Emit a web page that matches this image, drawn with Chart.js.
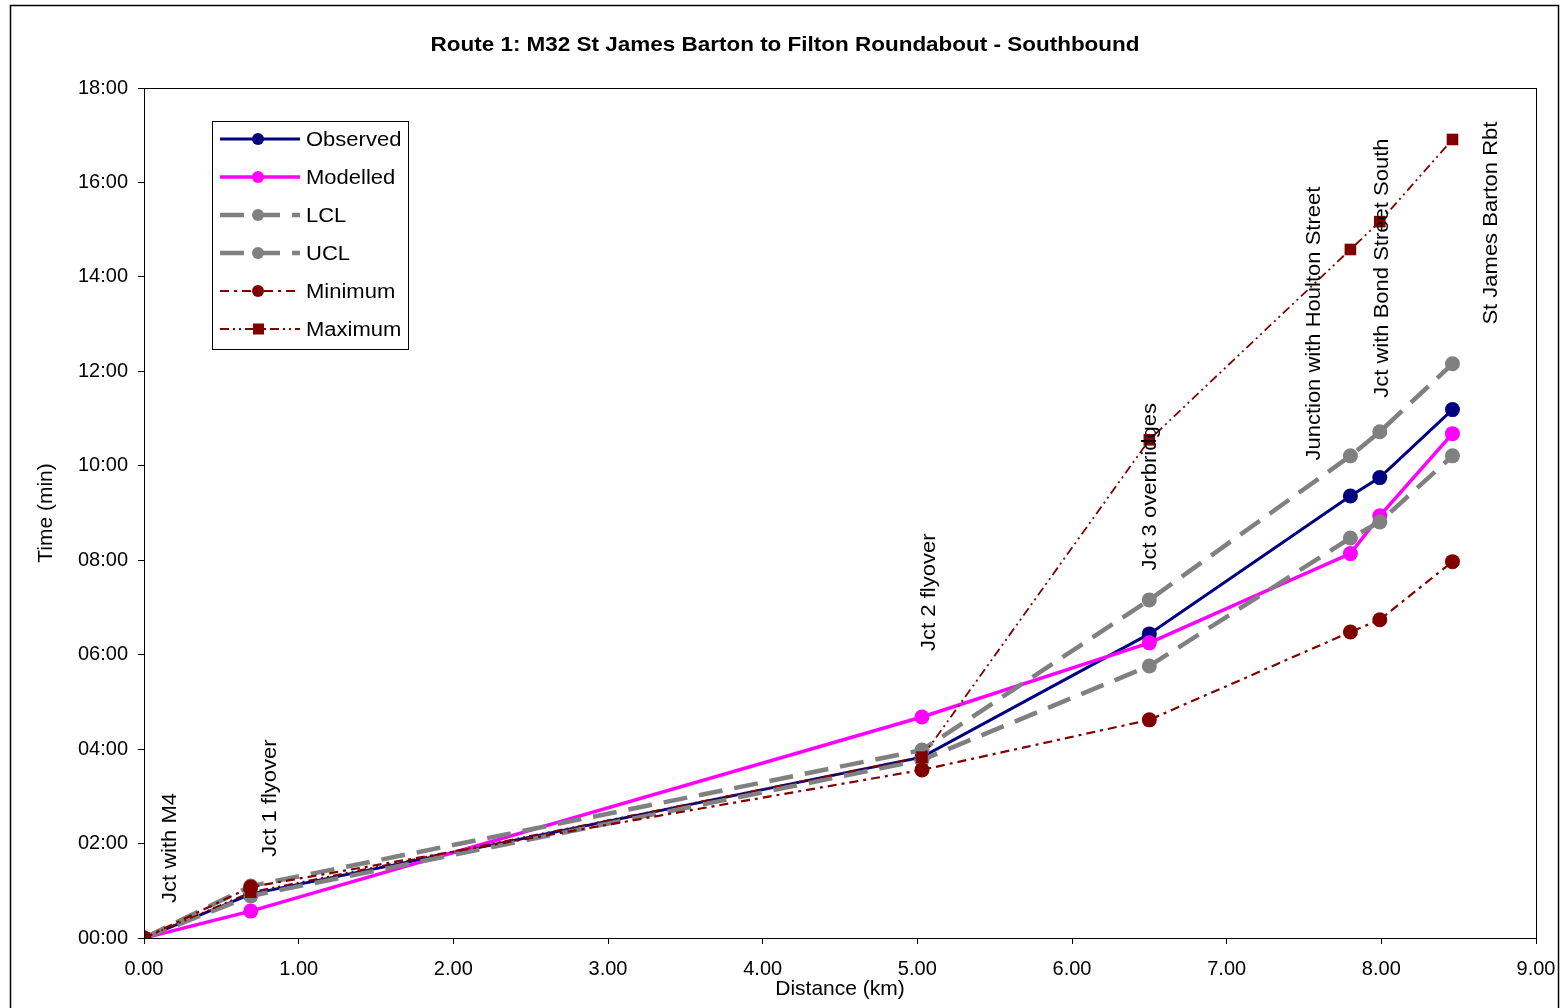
<!DOCTYPE html>
<html>
<head>
<meta charset="utf-8">
<title>Route 1 Southbound</title>
<script src="https://cdn.jsdelivr.net/npm/chart.js@4.4.1/dist/chart.umd.min.js"></script>
<style>
    html, body { margin: 0; padding: 0; background: #fff; }
    #wrap { width: 1565px; height: 1008px; }
</style>
</head>
<body>
<div id="wrap"><canvas id="chartRuta"></canvas></div>
<script>
// Datos (distancia en km, tiempo en minutos)
const distancias = [0, 0.69, 5.03, 6.50, 7.80, 7.99, 8.46];
const observado = [0, 0.93, 3.83, 6.44, 9.36, 9.75, 11.19];
const modelado = [0, 0.57, 4.68, 6.25, 8.14, 8.94, 10.68];
const lcl = [0, 0.89, 3.77, 5.76, 8.47, 8.81, 10.21];
const ucl = [0, 1.10, 3.98, 7.16, 10.21, 10.72, 12.16];
const minimo = [0, 1.08, 3.56, 4.62, 6.48, 6.74, 7.97];
const maximo = [0, 0.97, 3.83, 10.55, 14.58, 15.17, 16.91];

// Etiquetas de los puntos de control (texto vertical)
const etiquetas = ['Jct with M4', 'Jct 1 flyover', 'Jct 2 flyover', 'Jct 3 overbridges',
    'Junction with Houlton Street', 'Jct with Bond Street South', 'St James Barton Rbt'];
const etiquetaX = [0.17, 0.815, 5.08, 6.51, 7.57, 8.01, 8.71];
const etiquetaY = [0.74, 1.72, 6.08, 7.78, 10.11, 11.44, 12.99];

const titulo = 'Route 1: M32 St James Barton to Filton Roundabout - Southbound';

const FUENTE = "'Liberation Sans', Arial, sans-serif";
const ESTIRAR = 1.1; // el texto del original esta algo ensanchado

function puntos(valores) {
    return distancias.map((d, i) => ({ x: d, y: valores[i] }));
}

// Marco exterior, titulo y caja del area de trazado
const marcoPlugin = {
    id: 'marco',
    beforeDraw(chart) {
        const ctx = chart.ctx;
        ctx.save();
        ctx.fillStyle = '#fff';
        ctx.fillRect(0, 0, chart.width, chart.height);
        ctx.strokeStyle = '#000';
        ctx.lineWidth = 1.5;
        ctx.strokeRect(10.5, 5.5, 1548, 1010);
        // titulo
        ctx.fillStyle = '#000';
        ctx.font = 'bold 21px ' + FUENTE;
        ctx.textAlign = 'center';
        ctx.textBaseline = 'middle';
        ctx.translate(785, 45);
        ctx.scale(1.07, 1);
        ctx.fillText(titulo, 0, 0);
        ctx.restore();
    },
    afterDraw(chart) {
        const a = chart.chartArea;
        const ctx = chart.ctx;
        ctx.save();
        ctx.strokeStyle = '#000';
        ctx.lineWidth = 1;
        ctx.strokeRect(Math.round(a.left) + 0.5, Math.round(a.top) + 0.5,
            Math.round(a.right - a.left), Math.round(a.bottom - a.top));
        ctx.restore();
    }
};

// Textos verticales en cada cruce
const etiquetasPlugin = {
    id: 'etiquetas',
    afterDatasetsDraw(chart) {
        const ctx = chart.ctx;
        const sx = chart.scales.x;
        const sy = chart.scales.y;
        ctx.save();
        ctx.fillStyle = '#000';
        ctx.font = '20px ' + FUENTE;
        ctx.textAlign = 'left';
        ctx.textBaseline = 'middle';
        etiquetas.forEach((txt, i) => {
            ctx.save();
            ctx.translate(sx.getPixelForValue(etiquetaX[i]), sy.getPixelForValue(etiquetaY[i]));
            ctx.rotate(-Math.PI / 2);
            ctx.scale(ESTIRAR, 1);
            ctx.fillText(txt, 0, 0);
            ctx.restore();
        });
        ctx.restore();
    }
};

// Leyenda con recuadro dentro del area
const leyendaPlugin = {
    id: 'leyenda',
    afterDraw(chart) {
        const ctx = chart.ctx;
        const x0 = 212, y0 = 121, w = 196, h = 228;
        ctx.save();
        ctx.fillStyle = '#fff';
        ctx.fillRect(x0, y0, w, h);
        ctx.strokeStyle = '#000';
        ctx.lineWidth = 1;
        ctx.strokeRect(x0 + 0.5, y0 + 0.5, w, h);
        chart.data.datasets.forEach((ds, i) => {
            const y = y0 + 18 + i * 38;
            ctx.save();
            ctx.strokeStyle = ds.borderColor;
            ctx.lineWidth = ds.borderWidth;
            ctx.setLineDash(ds.borderDash || []);
            ctx.beginPath();
            ctx.moveTo(220, y);
            ctx.lineTo(300, y);
            ctx.stroke();
            ctx.restore();
            ctx.fillStyle = ds.pointBackgroundColor;
            if (ds.pointStyle === 'rect') {
                ctx.fillRect(253, y - 5.5, 11, 11);
            } else {
                ctx.beginPath();
                ctx.arc(258, y, 6, 0, Math.PI * 2);
                ctx.fill();
            }
            ctx.save();
            ctx.fillStyle = '#000';
            ctx.font = '20px ' + FUENTE;
            ctx.textBaseline = 'middle';
            ctx.translate(306, y + 1);
            ctx.scale(ESTIRAR, 1);
            ctx.fillText(ds.label, 0, 0);
            ctx.restore();
        });
        ctx.restore();
    }
};

function serie(label, valores, color, ancho, dash, radio, estilo, orden) {
    return {
        label: label,
        data: puntos(valores),
        borderColor: color,
        backgroundColor: color,
        pointBackgroundColor: color,
        pointBorderColor: color,
        borderWidth: ancho,
        borderDash: dash,
        pointRadius: radio,
        pointBorderWidth: 0,
        pointStyle: estilo,
        tension: 0,
        order: orden
    };
}

const ctx = document.getElementById('chartRuta').getContext('2d');
new Chart(ctx, {
    type: 'line',
    data: {
        datasets: [
            serie('Observed', observado, '#000080', 3, [], 7.5, 'circle', 6),
            serie('Modelled', modelado, '#FF00FF', 3.5, [], 7.5, 'circle', 5),
            serie('LCL', lcl, '#808080', 4.5, [24, 12], 7.5, 'circle', 4),
            serie('UCL', ucl, '#808080', 4.5, [24, 12], 7.5, 'circle', 3),
            serie('Minimum', minimo, '#800000', 2.2, [9, 5, 3, 5], 7.5, 'circle', 2),
            serie('Maximum', maximo, '#800000', 1.8, [9, 4, 2, 4, 2, 4], 8.2, 'rect', 1)
        ]
    },
    options: {
        responsive: true,
        maintainAspectRatio: false,
        animation: false,
        layout: { padding: { left: 0, right: 29, top: 88, bottom: 0 } },
        plugins: {
            legend: { display: false },
            tooltip: { enabled: false },
            title: { display: false }
        },
        scales: {
            x: {
                type: 'linear',
                min: 0,
                max: 9,
                ticks: {
                    stepSize: 1,
                    color: '#000',
                    font: { family: FUENTE, size: 20 },
                    padding: 13,
                    maxRotation: 0,
                    callback: v => Number(v).toFixed(2)
                },
                grid: { drawOnChartArea: false, color: '#000', tickLength: 6 },
                border: { color: '#000', width: 1 },
                title: {
                    display: true,
                    text: 'Distance (km)',
                    color: '#000',
                    font: { family: FUENTE, size: 21 },
                    padding: { top: 0, bottom: 6 }
                },
                afterFit: s => {
                    s.height = 70;
                    s.paddingLeft = 0;
                    s.paddingRight = 0;
                }
            },
            y: {
                min: 0,
                max: 18,
                ticks: {
                    stepSize: 2,
                    color: '#000',
                    font: { family: FUENTE, size: 20 },
                    padding: 10,
                    callback: v => String(v).padStart(2, '0') + ':00'
                },
                grid: { drawOnChartArea: false, color: '#000', tickLength: 6 },
                border: { color: '#000', width: 1 },
                title: {
                    display: true,
                    text: 'Time (min)',
                    color: '#000',
                    font: { family: FUENTE, size: 21 },
                    padding: { top: 34, bottom: 0 }
                },
                afterFit: s => { s.width = 144; }
            }
        }
    },
    plugins: [marcoPlugin, etiquetasPlugin, leyendaPlugin]
});
</script>
</body>
</html>
